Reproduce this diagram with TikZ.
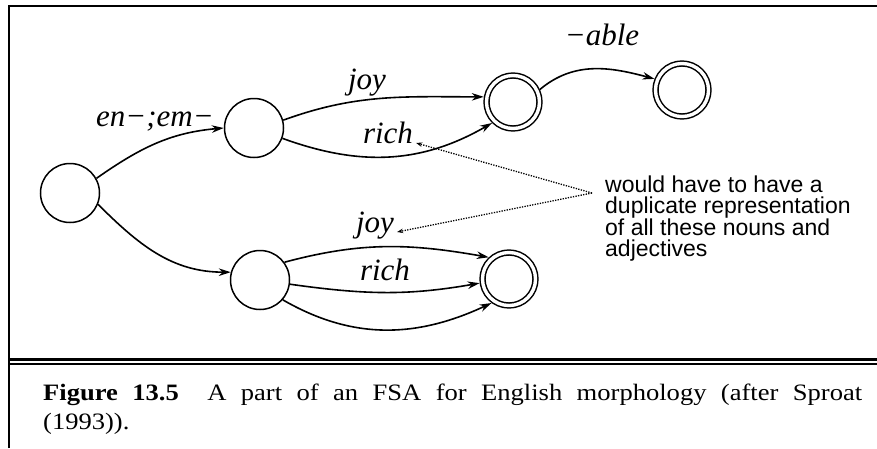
\documentclass[tikz,border=0pt]{standalone}
\usepackage{fontspec}
\setmainfont{Liberation Serif}
\newfontfamily\notefont{Liberation Sans}
\newfontfamily\capfont[FakeStretch=1.13]{Liberation Serif}
\usetikzlibrary{arrows.meta}

\begin{document}
\begin{tikzpicture}[
        x=1pt, y=1pt,
        state/.style={circle, draw=black, line width=1.5pt, minimum size=59pt, inner sep=0pt},
        final/.style={circle, draw=black, line width=1.5pt, double, double distance=3.4pt, minimum size=53pt, inner sep=0pt, outer sep=3.2pt},
        lab/.style={font=\fontsize{31}{33}\selectfont\itshape, inner sep=3pt, anchor=base},
        arrow/.style={-{Stealth[length=12pt, width=7.5pt]}, line width=1.6pt},
        pointer/.style={-{Stealth[length=6pt, width=4.5pt]}, line width=1.3pt, dash pattern=on 1.3pt off 1.3pt},
        rule/.style={draw=black}
    ]
        \useasboundingbox (0,0) rectangle (877,-448);

        % frame and rules
        \draw[rule, line width=2pt] (9,-448) -- (9,-6) -- (877,-6);
        \draw[rule, line width=2.6pt] (8,-359.5) -- (877,-359.5);
        \draw[rule, line width=1.6pt] (8,-364) -- (877,-364);

        \node[state] (start) at (70,-193) {};
        \node[state] (pre) at (254,-128) {};
        \node[final] (adj) at (513,-102) {};
        \node[final] (able) at (682,-90) {};
        \node[state] (bare) at (260,-280) {};
        \node[final] (fin) at (509,-279) {};

        \node[lab] (lpre) at (155,-126) {en−;em−};
        \node[lab] (ljoyup) at (367,-89) {joy};
        \node[lab] (lrichup) at (388,-143) {rich};
        \node[lab] (lable) at (602,-45) {−able};
        \node[lab] (ljoylo) at (375,-232) {joy};
        \node[lab] (lrichlo) at (385,-280) {rich};

        \draw[arrow] (start.29) to[out=35, in=185] (pre.180);
        \draw[arrow] (start.-22) to[out=-45, in=180] (bare.165);
        \draw[arrow] (pre.15) to[out=20, in=180] (adj.170);
        \draw[arrow] (pre.-20) to[out=-20, in=210] (adj.225);
        \draw[arrow] (adj.25) to[out=40, in=165] (able.158);
        \draw[arrow] (bare.36) to[out=15, in=170] (fin.133);
        \draw[arrow] (bare.-8) to[out=-8, in=190] (fin.188);
        \draw[arrow] (bare.-41) to[out=-30, in=205] (fin.234);

        % annotation
        \coordinate (hub) at (592,-193);
        \node[anchor=north west, align=left, inner sep=0pt, font=\notefont\fontsize{23}{21.5}\selectfont] (note) at (605,-175.5) {would have to have a\\duplicate representation\\of all these nouns and\\adjectives};
        \draw[pointer] (hub) -- (lrichup.base east);
        \draw[pointer] (hub) -- (ljoylo.base east);

        \node[anchor=north west, text width=819pt, align=justify, inner sep=0pt, font=\capfont\fontsize{23.5}{29}\selectfont] (caption) at (43,-383.5) {\textbf{Figure 13.5}\hspace{0.6em} A part of an FSA for English morphology (after Sproat\linebreak (1993)).};
    \end{tikzpicture}
\end{document}
